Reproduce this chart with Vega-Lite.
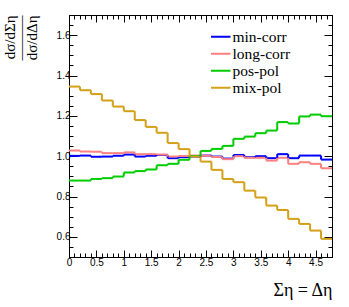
{
  "$schema": "https://vega.github.io/schema/vega-lite/v6.json",
  "autosize": "none",
  "width": 263,
  "height": 242,
  "padding": {"left": 69, "top": 15, "right": 17, "bottom": 50},
  "background": "white",
  "config": {
    "view": {"stroke": "black", "strokeWidth": 1},
    "axis": {"domainColor": "black", "tickColor": "black", "labelColor": "black", "titleColor": "black", "grid": false, "labelFont": "Liberation Sans", "labelFontSize": 10, "titleFont": "Times New Roman", "titleFontWeight": "normal", "titleFontSize": 17}
  },
  "data": {"values": [
    {"s":"min-corr","lo":0.0,"hi":0.2,"v":1.0015},{"s":"min-corr","lo":0.2,"hi":0.4,"v":1.003},{"s":"min-corr","lo":0.4,"hi":0.6,"v":0.997},{"s":"min-corr","lo":0.6,"hi":0.8,"v":0.998},{"s":"min-corr","lo":0.8,"hi":1.0,"v":1.002},{"s":"min-corr","lo":1.0,"hi":1.2,"v":1.008},{"s":"min-corr","lo":1.2,"hi":1.4,"v":0.998},{"s":"min-corr","lo":1.4,"hi":1.6,"v":1.002},{"s":"min-corr","lo":1.6,"hi":1.8,"v":1.006},{"s":"min-corr","lo":1.8,"hi":2.0,"v":0.990},{"s":"min-corr","lo":2.0,"hi":2.2,"v":0.995},{"s":"min-corr","lo":2.2,"hi":2.4,"v":0.998},{"s":"min-corr","lo":2.4,"hi":2.6,"v":1.003},{"s":"min-corr","lo":2.6,"hi":2.8,"v":0.998},{"s":"min-corr","lo":2.8,"hi":3.0,"v":0.988},{"s":"min-corr","lo":3.0,"hi":3.2,"v":1.006},{"s":"min-corr","lo":3.2,"hi":3.4,"v":0.995},{"s":"min-corr","lo":3.4,"hi":3.6,"v":1.0},{"s":"min-corr","lo":3.6,"hi":3.8,"v":0.99},{"s":"min-corr","lo":3.8,"hi":4.0,"v":1.010},{"s":"min-corr","lo":4.0,"hi":4.2,"v":0.99},{"s":"min-corr","lo":4.2,"hi":4.4,"v":1.003},{"s":"min-corr","lo":4.4,"hi":4.6,"v":1.003},{"s":"min-corr","lo":4.6,"hi":4.8,"v":0.983},
    {"s":"long-corr","lo":0.0,"hi":0.2,"v":1.028},{"s":"long-corr","lo":0.2,"hi":0.4,"v":1.023},{"s":"long-corr","lo":0.4,"hi":0.6,"v":1.022},{"s":"long-corr","lo":0.6,"hi":0.8,"v":1.015},{"s":"long-corr","lo":0.8,"hi":1.0,"v":1.015},{"s":"long-corr","lo":1.0,"hi":1.2,"v":1.019},{"s":"long-corr","lo":1.2,"hi":1.4,"v":1.010},{"s":"long-corr","lo":1.4,"hi":1.6,"v":1.010},{"s":"long-corr","lo":1.6,"hi":1.8,"v":1.008},{"s":"long-corr","lo":1.8,"hi":2.0,"v":0.998},{"s":"long-corr","lo":2.0,"hi":2.2,"v":1.001},{"s":"long-corr","lo":2.2,"hi":2.4,"v":1.003},{"s":"long-corr","lo":2.4,"hi":2.6,"v":1.002},{"s":"long-corr","lo":2.6,"hi":2.8,"v":0.996},{"s":"long-corr","lo":2.8,"hi":3.0,"v":0.985},{"s":"long-corr","lo":3.0,"hi":3.2,"v":1.0},{"s":"long-corr","lo":3.2,"hi":3.4,"v":0.992},{"s":"long-corr","lo":3.4,"hi":3.6,"v":0.992},{"s":"long-corr","lo":3.6,"hi":3.8,"v":0.978},{"s":"long-corr","lo":3.8,"hi":4.0,"v":0.992},{"s":"long-corr","lo":4.0,"hi":4.2,"v":0.962},{"s":"long-corr","lo":4.2,"hi":4.4,"v":0.970},{"s":"long-corr","lo":4.4,"hi":4.6,"v":0.962},{"s":"long-corr","lo":4.6,"hi":4.8,"v":0.940},
    {"s":"pos-pol","lo":0.0,"hi":0.2,"v":0.879},{"s":"pos-pol","lo":0.2,"hi":0.4,"v":0.879},{"s":"pos-pol","lo":0.4,"hi":0.6,"v":0.887},{"s":"pos-pol","lo":0.6,"hi":0.8,"v":0.891},{"s":"pos-pol","lo":0.8,"hi":1.0,"v":0.899},{"s":"pos-pol","lo":1.0,"hi":1.2,"v":0.919},{"s":"pos-pol","lo":1.2,"hi":1.4,"v":0.926},{"s":"pos-pol","lo":1.4,"hi":1.6,"v":0.934},{"s":"pos-pol","lo":1.6,"hi":1.8,"v":0.955},{"s":"pos-pol","lo":1.8,"hi":2.0,"v":0.962},{"s":"pos-pol","lo":2.0,"hi":2.2,"v":0.982},{"s":"pos-pol","lo":2.2,"hi":2.4,"v":1.001},{"s":"pos-pol","lo":2.4,"hi":2.6,"v":1.026},{"s":"pos-pol","lo":2.6,"hi":2.8,"v":1.036},{"s":"pos-pol","lo":2.8,"hi":3.0,"v":1.051},{"s":"pos-pol","lo":3.0,"hi":3.2,"v":1.086},{"s":"pos-pol","lo":3.2,"hi":3.4,"v":1.097},{"s":"pos-pol","lo":3.4,"hi":3.6,"v":1.114},{"s":"pos-pol","lo":3.6,"hi":3.8,"v":1.127},{"s":"pos-pol","lo":3.8,"hi":4.0,"v":1.169},{"s":"pos-pol","lo":4.0,"hi":4.2,"v":1.162},{"s":"pos-pol","lo":4.2,"hi":4.4,"v":1.197},{"s":"pos-pol","lo":4.4,"hi":4.6,"v":1.206},{"s":"pos-pol","lo":4.6,"hi":4.8,"v":1.198},
    {"s":"mix-pol","lo":0.0,"hi":0.2,"v":1.345},{"s":"mix-pol","lo":0.2,"hi":0.4,"v":1.327},{"s":"mix-pol","lo":0.4,"hi":0.6,"v":1.308},{"s":"mix-pol","lo":0.6,"hi":0.8,"v":1.276},{"s":"mix-pol","lo":0.8,"hi":1.0,"v":1.246},{"s":"mix-pol","lo":1.0,"hi":1.2,"v":1.223},{"s":"mix-pol","lo":1.2,"hi":1.4,"v":1.179},{"s":"mix-pol","lo":1.4,"hi":1.6,"v":1.145},{"s":"mix-pol","lo":1.6,"hi":1.8,"v":1.116},{"s":"mix-pol","lo":1.8,"hi":2.0,"v":1.065},{"s":"mix-pol","lo":2.0,"hi":2.2,"v":1.035},{"s":"mix-pol","lo":2.2,"hi":2.4,"v":0.998},{"s":"mix-pol","lo":2.4,"hi":2.6,"v":0.973},{"s":"mix-pol","lo":2.6,"hi":2.8,"v":0.932},{"s":"mix-pol","lo":2.8,"hi":3.0,"v":0.887},{"s":"mix-pol","lo":3.0,"hi":3.2,"v":0.871},{"s":"mix-pol","lo":3.2,"hi":3.4,"v":0.829},{"s":"mix-pol","lo":3.4,"hi":3.6,"v":0.795},{"s":"mix-pol","lo":3.6,"hi":3.8,"v":0.755},{"s":"mix-pol","lo":3.8,"hi":4.0,"v":0.733},{"s":"mix-pol","lo":4.0,"hi":4.2,"v":0.689},{"s":"mix-pol","lo":4.2,"hi":4.4,"v":0.664},{"s":"mix-pol","lo":4.4,"hi":4.6,"v":0.631},{"s":"mix-pol","lo":4.6,"hi":4.8,"v":0.590}
  ]},
  "resolve": {"axis": {"x": "independent", "y": "independent"}},
  "layer": [
    {
      "mark": {"type": "rule", "strokeWidth": 2},
      "encoding": {
        "x": {"field": "lo", "type": "quantitative", "scale": {"domain": [0, 4.8], "nice": false, "zero": false},
          "axis": {"orient": "bottom", "title": "Ση = Δη", "titleAnchor": "end", "titlePadding": 11, "titleFontSize": 18,
            "values": [0,0.1,0.2,0.3,0.4,0.5,0.6,0.7,0.8,0.9,1,1.1,1.2,1.3,1.4,1.5,1.6,1.7,1.8,1.9,2,2.1,2.2,2.3,2.4,2.5,2.6,2.7,2.8,2.9,3,3.1,3.2,3.3,3.4,3.5,3.6,3.7,3.8,3.9,4,4.1,4.2,4.3,4.4,4.5,4.6,4.7,4.8],
            "format": "~g",
            "labelExpr": "abs(datum.value*2 - round(datum.value*2)) < 0.000001 ? datum.label : ''",
            "tickSize": {"condition": {"test": "abs(datum.value*2 - round(datum.value*2)) < 0.000001", "value": -7}, "value": -4},
            "labelPadding": 7, "labelFlush": false, "labelOverlap": false}},
        "x2": {"field": "hi"},
        "y": {"field": "v", "type": "quantitative", "scale": {"domain": [0.5, 1.7], "nice": false, "zero": false},
          "axis": {"orient": "left", "title": ["dσ/dΣη", "———", "dσ/dΔη"], "titleAnchor": "end", "titleFontSize": 15, "titleLineHeight": 11, "titlePadding": 17,
            "values": [0.5,0.55,0.6,0.65,0.7,0.75,0.8,0.85,0.9,0.95,1,1.05,1.1,1.15,1.2,1.25,1.3,1.35,1.4,1.45,1.5,1.55,1.6,1.65,1.7],
            "format": ".1f",
            "labelExpr": "abs(datum.value*5 - round(datum.value*5)) < 0.000001 ? datum.label : ''",
            "tickSize": {"condition": {"test": "abs(datum.value*5 - round(datum.value*5)) < 0.000001", "value": -8}, "value": -4},
            "labelPadding": 7, "labelOverlap": false}},
        "color": {"field": "s", "type": "nominal", "sort": null,
          "scale": {"domain": ["min-corr", "long-corr", "pos-pol", "mix-pol"], "range": ["#0000ff", "#ff8080", "#00cc00", "#d4a017"]},
          "legend": {"orient": "none", "legendX": 144, "legendY": 14, "title": null, "symbolType": "M-1.5,0H1.5", "symbolSize": 169, "symbolStrokeWidth": 2, "labelFont": "Times New Roman", "labelFontSize": 15.5, "labelColor": "black", "labelOffset": 4, "rowPadding": 0, "padding": 0}}
      }
    },
    {
      "transform": [
        {"window": [{"op": "lag", "field": "v", "as": "prev"}], "groupby": ["s"], "sort": [{"field": "lo"}]},
        {"filter": "datum.prev != null"}
      ],
      "mark": {"type": "rule", "strokeWidth": 2},
      "encoding": {
        "x": {"field": "lo", "type": "quantitative",
          "axis": {"orient": "top", "title": null, "labels": false, "domain": false,
            "values": [0,0.1,0.2,0.3,0.4,0.5,0.6,0.7,0.8,0.9,1,1.1,1.2,1.3,1.4,1.5,1.6,1.7,1.8,1.9,2,2.1,2.2,2.3,2.4,2.5,2.6,2.7,2.8,2.9,3,3.1,3.2,3.3,3.4,3.5,3.6,3.7,3.8,3.9,4,4.1,4.2,4.3,4.4,4.5,4.6,4.7,4.8],
            "tickSize": {"condition": {"test": "abs(datum.value*2 - round(datum.value*2)) < 0.000001", "value": -7}, "value": -4}}},
        "y": {"field": "prev", "type": "quantitative",
          "axis": {"orient": "right", "title": null, "labels": false, "domain": false,
            "values": [0.5,0.55,0.6,0.65,0.7,0.75,0.8,0.85,0.9,0.95,1,1.05,1.1,1.15,1.2,1.25,1.3,1.35,1.4,1.45,1.5,1.55,1.6,1.65,1.7],
            "tickSize": {"condition": {"test": "abs(datum.value*5 - round(datum.value*5)) < 0.000001", "value": -8}, "value": -4}}},
        "y2": {"field": "v"},
        "color": {"field": "s", "type": "nominal", "sort": null}
      }
    }
  ]
}
